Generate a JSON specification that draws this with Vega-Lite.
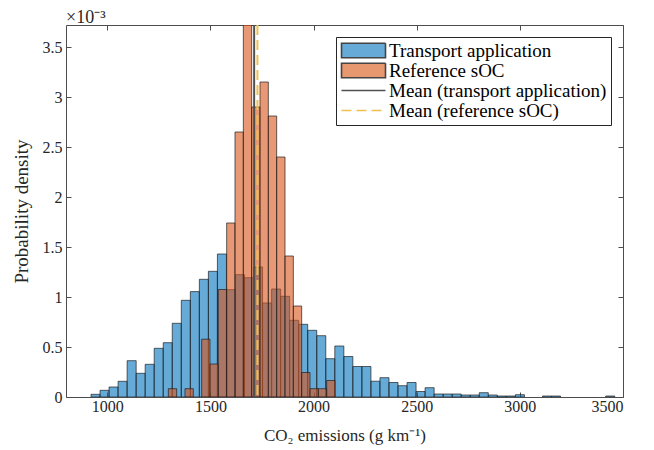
{
  "$schema": "https://vega.github.io/schema/vega-lite/v6.json",
  "width": 557,
  "height": 372,
  "autosize": {"type": "none"},
  "padding": {"left": 66, "top": 25, "right": 31, "bottom": 53},
  "background": "white",
  "config": {
    "font": "Liberation Serif",
    "view": {"stroke": null},
    "axis": {
      "domainColor": "#4d4d4d", "tickColor": "#4d4d4d", "domainWidth": 1, "tickWidth": 1,
      "labelColor": "#262626", "titleColor": "#262626",
      "labelFont": "Liberation Serif", "titleFont": "Liberation Serif",
      "labelFontSize": 16, "titleFontSize": 17, "titleFontWeight": "normal",
      "grid": false, "tickSize": -5
    },
    "legend": {
      "orient": "top-right", "offset": 12,
      "strokeColor": "#262626", "fillColor": "white", "padding": 4,
      "labelFont": "Liberation Serif", "labelFontSize": 19, "labelColor": "#000000", "labelLimit": 400,
      "symbolSize": 256, "rowPadding": -2, "symbolOffset": 14, "labelOffset": 16,
      "symbolOpacity": 1, "symbolStrokeWidth": 1.6
    }
  },
  "title": {"text": "×10⁻³", "anchor": "start", "frame": "group", "fontSize": 18, "fontWeight": "normal", "font": "Liberation Serif", "color": "#262626", "offset": -3},
  "datasets": {
    "bins": [
      {"series": "Transport application", "bin_start": 921.2, "bin_end": 965.0, "density": 0.000027},
      {"series": "Transport application", "bin_start": 965.0, "bin_end": 1008.7, "density": 0.000067},
      {"series": "Transport application", "bin_start": 1008.7, "bin_end": 1052.5, "density": 0.0001},
      {"series": "Transport application", "bin_start": 1052.5, "bin_end": 1096.3, "density": 0.000157},
      {"series": "Transport application", "bin_start": 1096.3, "bin_end": 1140.1, "density": 0.000363},
      {"series": "Transport application", "bin_start": 1140.1, "bin_end": 1183.8, "density": 0.000237},
      {"series": "Transport application", "bin_start": 1183.8, "bin_end": 1227.6, "density": 0.000327},
      {"series": "Transport application", "bin_start": 1227.6, "bin_end": 1271.4, "density": 0.000487},
      {"series": "Transport application", "bin_start": 1271.4, "bin_end": 1315.1, "density": 0.000543},
      {"series": "Transport application", "bin_start": 1315.1, "bin_end": 1358.9, "density": 0.000737},
      {"series": "Transport application", "bin_start": 1358.9, "bin_end": 1402.7, "density": 0.000967},
      {"series": "Transport application", "bin_start": 1402.7, "bin_end": 1446.4, "density": 0.001054},
      {"series": "Transport application", "bin_start": 1446.4, "bin_end": 1490.2, "density": 0.001177},
      {"series": "Transport application", "bin_start": 1490.2, "bin_end": 1534.0, "density": 0.001257},
      {"series": "Transport application", "bin_start": 1534.0, "bin_end": 1577.8, "density": 0.00143},
      {"series": "Transport application", "bin_start": 1577.8, "bin_end": 1621.5, "density": 0.001073},
      {"series": "Transport application", "bin_start": 1621.5, "bin_end": 1665.3, "density": 0.001223},
      {"series": "Transport application", "bin_start": 1665.3, "bin_end": 1709.1, "density": 0.001193},
      {"series": "Transport application", "bin_start": 1709.1, "bin_end": 1752.8, "density": 0.0013},
      {"series": "Transport application", "bin_start": 1752.8, "bin_end": 1796.6, "density": 0.00094},
      {"series": "Transport application", "bin_start": 1796.6, "bin_end": 1840.4, "density": 0.00108},
      {"series": "Transport application", "bin_start": 1840.4, "bin_end": 1884.1, "density": 0.001007},
      {"series": "Transport application", "bin_start": 1884.1, "bin_end": 1927.9, "density": 0.000767},
      {"series": "Transport application", "bin_start": 1927.9, "bin_end": 1971.7, "density": 0.000727},
      {"series": "Transport application", "bin_start": 1971.7, "bin_end": 2015.5, "density": 0.000667},
      {"series": "Transport application", "bin_start": 2015.5, "bin_end": 2059.2, "density": 0.000613},
      {"series": "Transport application", "bin_start": 2059.2, "bin_end": 2103.0, "density": 0.000383},
      {"series": "Transport application", "bin_start": 2103.0, "bin_end": 2146.8, "density": 0.00051},
      {"series": "Transport application", "bin_start": 2146.8, "bin_end": 2190.5, "density": 0.000405},
      {"series": "Transport application", "bin_start": 2190.5, "bin_end": 2234.3, "density": 0.000305},
      {"series": "Transport application", "bin_start": 2234.3, "bin_end": 2278.1, "density": 0.000305},
      {"series": "Transport application", "bin_start": 2278.1, "bin_end": 2321.8, "density": 0.000158},
      {"series": "Transport application", "bin_start": 2321.8, "bin_end": 2365.6, "density": 0.000193},
      {"series": "Transport application", "bin_start": 2365.6, "bin_end": 2409.4, "density": 0.000145},
      {"series": "Transport application", "bin_start": 2409.4, "bin_end": 2453.2, "density": 0.000113},
      {"series": "Transport application", "bin_start": 2453.2, "bin_end": 2496.9, "density": 0.000145},
      {"series": "Transport application", "bin_start": 2496.9, "bin_end": 2540.7, "density": 0.000055},
      {"series": "Transport application", "bin_start": 2540.7, "bin_end": 2584.5, "density": 0.000093},
      {"series": "Transport application", "bin_start": 2584.5, "bin_end": 2628.2, "density": 0.00003},
      {"series": "Transport application", "bin_start": 2628.2, "bin_end": 2672.0, "density": 0.00003},
      {"series": "Transport application", "bin_start": 2672.0, "bin_end": 2715.8, "density": 0.00003},
      {"series": "Transport application", "bin_start": 2715.8, "bin_end": 2759.5, "density": 0.00002},
      {"series": "Transport application", "bin_start": 2759.5, "bin_end": 2803.3, "density": 0.00002},
      {"series": "Transport application", "bin_start": 2803.3, "bin_end": 2847.1, "density": 0.000043},
      {"series": "Transport application", "bin_start": 2847.1, "bin_end": 2890.9, "density": 0.00002},
      {"series": "Transport application", "bin_start": 2890.9, "bin_end": 2934.6, "density": 0.00001},
      {"series": "Transport application", "bin_start": 2934.6, "bin_end": 2978.4, "density": 0.00001},
      {"series": "Transport application", "bin_start": 2978.4, "bin_end": 3022.2, "density": 0.000023},
      {"series": "Transport application", "bin_start": 3109.7, "bin_end": 3153.5, "density": 0.00001},
      {"series": "Transport application", "bin_start": 3153.5, "bin_end": 3197.2, "density": 0.00001},
      {"series": "Transport application", "bin_start": 3416.1, "bin_end": 3459.9, "density": 0.00001},
      {"series": "Reference sOC", "bin_start": 1296.0, "bin_end": 1336.4, "density": 0.000083},
      {"series": "Reference sOC", "bin_start": 1376.8, "bin_end": 1417.2, "density": 0.000083},
      {"series": "Reference sOC", "bin_start": 1457.6, "bin_end": 1498.0, "density": 0.000578},
      {"series": "Reference sOC", "bin_start": 1498.0, "bin_end": 1538.4, "density": 0.00033},
      {"series": "Reference sOC", "bin_start": 1538.4, "bin_end": 1578.8, "density": 0.001075},
      {"series": "Reference sOC", "bin_start": 1578.8, "bin_end": 1619.2, "density": 0.00174},
      {"series": "Reference sOC", "bin_start": 1619.2, "bin_end": 1659.6, "density": 0.00265},
      {"series": "Reference sOC", "bin_start": 1659.6, "bin_end": 1700.0, "density": 0.00413},
      {"series": "Reference sOC", "bin_start": 1700.0, "bin_end": 1740.4, "density": 0.0029},
      {"series": "Reference sOC", "bin_start": 1740.4, "bin_end": 1780.8, "density": 0.00315},
      {"series": "Reference sOC", "bin_start": 1780.8, "bin_end": 1821.2, "density": 0.00281},
      {"series": "Reference sOC", "bin_start": 1821.2, "bin_end": 1861.6, "density": 0.0024},
      {"series": "Reference sOC", "bin_start": 1861.6, "bin_end": 1902.0, "density": 0.00141},
      {"series": "Reference sOC", "bin_start": 1902.0, "bin_end": 1942.4, "density": 0.00091},
      {"series": "Reference sOC", "bin_start": 1942.4, "bin_end": 1982.8, "density": 0.000245},
      {"series": "Reference sOC", "bin_start": 1982.8, "bin_end": 2023.2, "density": 0.000083},
      {"series": "Reference sOC", "bin_start": 2023.2, "bin_end": 2063.6, "density": 0.000083},
      {"series": "Reference sOC", "bin_start": 2063.6, "bin_end": 2104.0, "density": 0.000165}
    ],
    "means": [
      {"series": "Mean (transport application)", "co2": 1712},
      {"series": "Mean (reference sOC)", "co2": 1728}
    ]
  },
  "layer": [
    {
      "data": {"name": "bins"},
      "mark": {"type": "bar", "fillOpacity": 0.6, "stroke": "#1a1a1a", "strokeWidth": 0.8, "strokeOpacity": 0.85, "clip": true},
      "encoding": {
        "x": {"field": "bin_start", "type": "quantitative",
          "scale": {"domain": [800, 3500], "nice": false, "zero": false},
          "axis": {"values": [1000, 1500, 2000, 2500, 3000, 3500], "format": "d", "title": "CO₂ emissions (g km⁻¹)", "labelPadding": 6, "titlePadding": 13}},
        "x2": {"field": "bin_end"},
        "y": {"field": "density", "type": "quantitative",
          "scale": {"domain": [0, 0.00372], "nice": false},
          "axis": {"values": [0, 0.0005, 0.001, 0.0015, 0.002, 0.0025, 0.003, 0.0035], "labelExpr": "format(datum.value*1000, '~g')", "title": "Probability density", "titleFontSize": 19, "labelPadding": 9, "titlePadding": 11}},
        "y2": {"datum": 0},
        "color": {"field": "series", "type": "nominal",
          "scale": {"domain": ["Transport application", "Reference sOC"], "range": ["#0072BD", "#D95319"]},
          "legend": null}
      }
    },
    {
      "data": {"name": "means"},
      "mark": {"type": "rule", "strokeWidth": 2},
      "encoding": {
        "x": {"field": "co2", "type": "quantitative", "axis": null},
        "stroke": {"field": "series", "type": "nominal",
          "scale": {"domain": ["Transport application", "Reference sOC", "Mean (transport application)", "Mean (reference sOC)"], "range": ["#444444", "#444444", "#505050", "#EFC050"]},
          "legend": {"title": null}},
        "strokeDash": {"field": "series", "type": "nominal",
          "scale": {"domain": ["Transport application", "Reference sOC", "Mean (transport application)", "Mean (reference sOC)"], "range": [[1, 0], [1, 0], [1, 0], [10, 5]]},
          "legend": {"title": null}}
      }
    },
    {
      "data": {"name": "bins"},
      "mark": {"type": "point", "opacity": 0, "filled": true, "clip": true},
      "encoding": {
        "x": {"field": "bin_start", "type": "quantitative", "axis": {"orient": "top", "labels": false, "title": null, "values": [1000, 1500, 2000, 2500, 3000, 3500]}},
        "y": {"field": "density", "type": "quantitative", "axis": {"orient": "right", "labels": false, "title": null, "values": [0, 0.0005, 0.001, 0.0015, 0.002, 0.0025, 0.003, 0.0035]}},
        "fill": {"field": "series", "type": "nominal",
          "scale": {"domain": ["Transport application", "Reference sOC", "Mean (transport application)", "Mean (reference sOC)"], "range": ["#66AAD7", "#E8986F", "transparent", "transparent"]},
          "legend": {"title": null}},
        "stroke": {"field": "series", "type": "nominal", "legend": {"title": null}},
        "shape": {"field": "series", "type": "nominal",
          "scale": {"domain": ["Transport application", "Reference sOC", "Mean (transport application)", "Mean (reference sOC)"], "range": ["M-2.75,-0.9H2.75V0.9H-2.75Z", "M-2.75,-0.9H2.75V0.9H-2.75Z", "M-2.75,0H2.75", "M-2.75,0H2.75"]},
          "legend": {"title": null}},
        "strokeDash": {"field": "series", "type": "nominal", "legend": {"title": null}}
      }
    }
  ],
  "resolve": {"axis": {"x": "independent", "y": "independent"}}
}
